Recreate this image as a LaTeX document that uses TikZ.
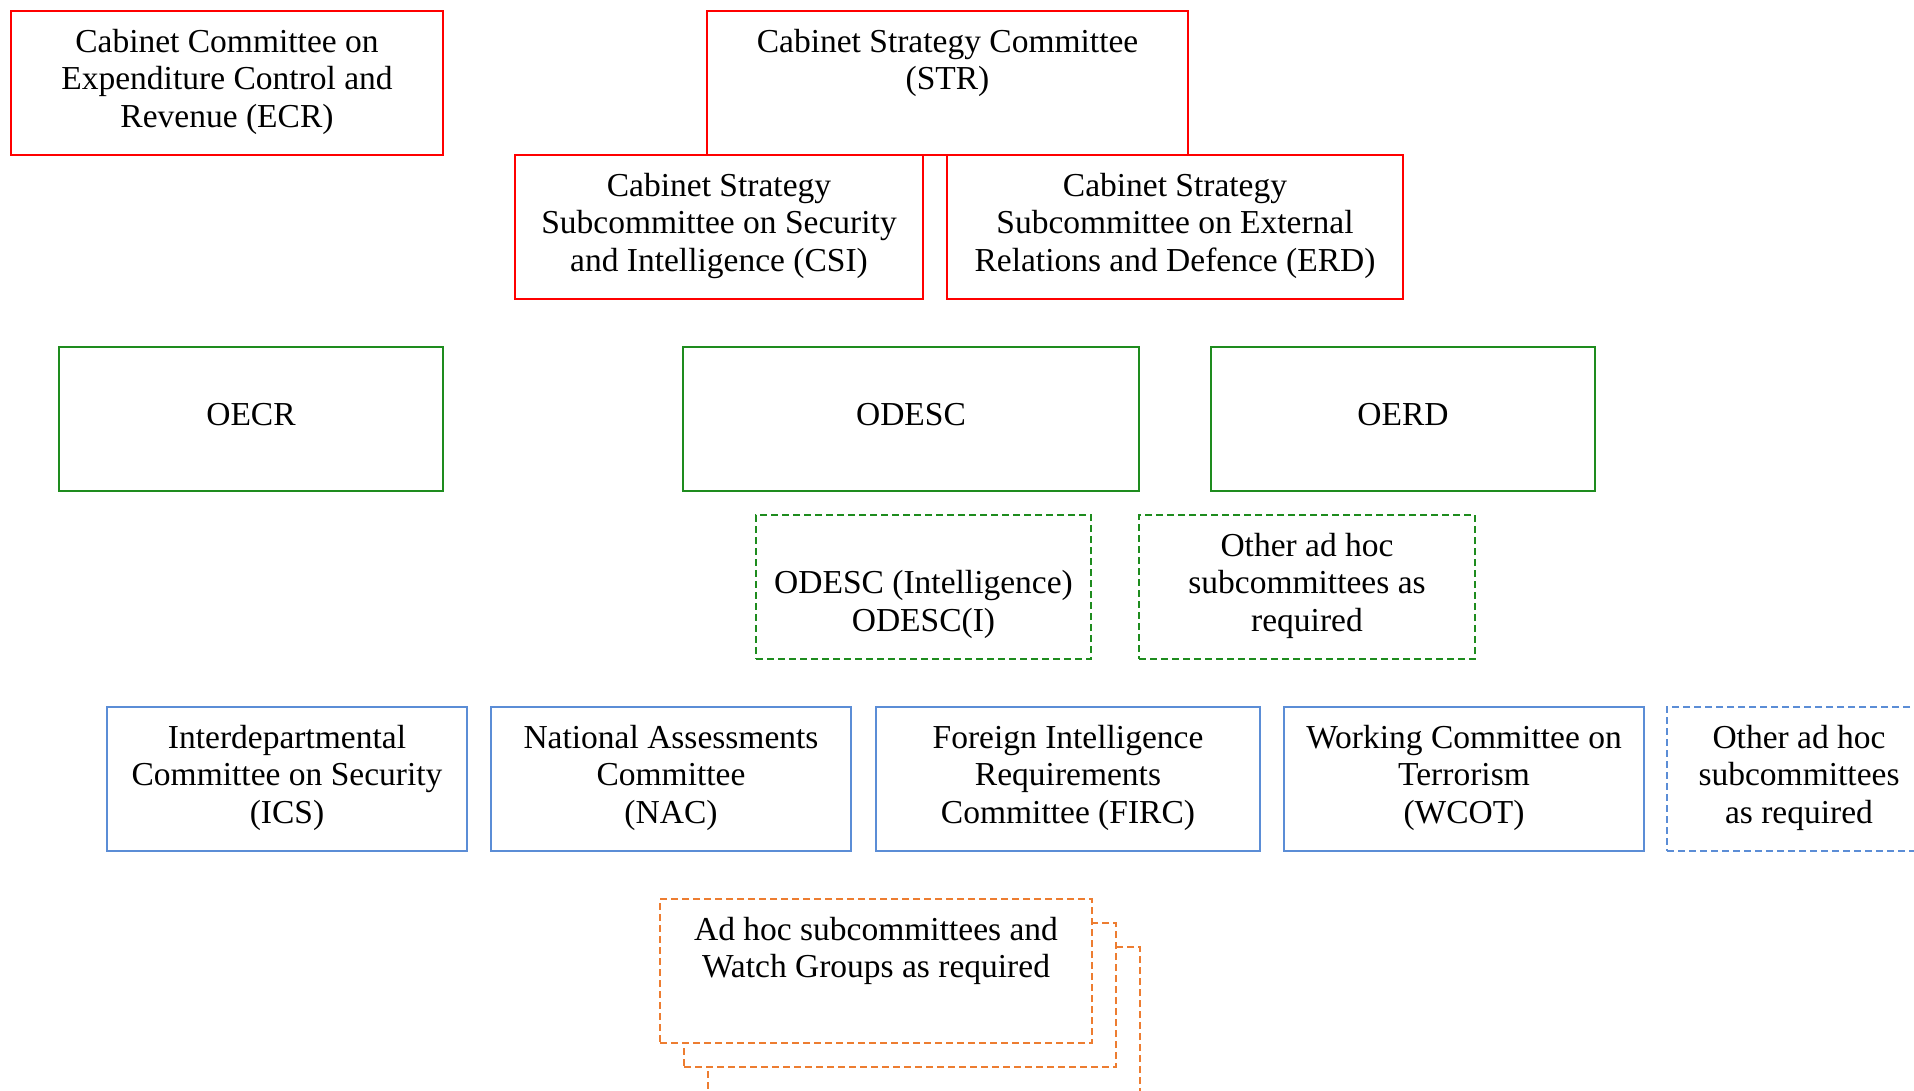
\documentclass[tikz,border=0pt]{standalone}
\usepackage{fontspec}
\setmainfont{Liberation Serif}
\definecolor{cred}{HTML}{FF0000}
\definecolor{cgreen}{HTML}{1E8C1E}
\definecolor{cblue}{HTML}{5B8DD6}
\definecolor{corange}{HTML}{ED7D31}
\newcommand{\fl}{\rule{0pt}{32pt}}
\begin{document}
\begin{tikzpicture}[x=1pt,y=-1pt,
  box/.style={draw, line width=2pt, fill=white, inner sep=0pt, outer sep=0pt, anchor=north west},
  dbox/.style={box, dash pattern=on 7pt off 4pt},
  txt/.style={anchor=north, align=center, inner sep=0pt, font=\fontsize{33.5}{37.7}\selectfont},
  sz/.style 2 args={minimum width=#1pt, minimum height=#2pt}]
\useasboundingbox (0,0) rectangle (1914,1090);
\fill[white] (0,0) rectangle (1914,1090);
\clip (0,0) rectangle (1914,1090);

% red level
\node[box, draw=cred, sz={432}{144}] (ecr) at (11,11) {};
\node[txt] (ecrt) at ([yshift=-9pt]ecr.north) {\fl Cabinet Committee on\\Expenditure Control and\\Revenue (ECR)};
\node[box, draw=cred, sz={481}{144}] (str) at (707,11) {};
\node[txt] (strt) at ([yshift=-9pt]str.north) {\fl Cabinet Strategy Committee\\(STR)};
\node[box, draw=cred, sz={408}{144}] (csi) at (515,155) {};
\node[txt] (csit) at ([yshift=-9pt]csi.north) {\fl Cabinet Strategy\\Subcommittee on Security\\and Intelligence (CSI)};
\node[box, draw=cred, sz={456}{144}] (erd) at (947,155) {};
\node[txt] (erdt) at ([yshift=-9pt]erd.north) {\fl Cabinet Strategy\\Subcommittee on External\\Relations and Defence (ERD)};

% green level
\node[box, draw=cgreen, sz={384}{144}] (oecr) at (59,347) {};
\node[txt] (oecrt) at ([yshift=-46.7pt]oecr.north) {\fl OECR};
\node[box, draw=cgreen, sz={456}{144}] (odesc) at (683,347) {};
\node[txt] (odesct) at ([yshift=-46.7pt]odesc.north) {\fl ODESC};
\node[box, draw=cgreen, sz={384}{144}] (oerd) at (1211,347) {};
\node[txt] (oerdt) at ([yshift=-46.7pt]oerd.north) {\fl OERD};
\node[dbox, draw=cgreen, sz={335}{144}] (odesci) at (756,515) {};
\node[txt] (odescit) at ([yshift=-46.7pt]odesci.north) {\fl ODESC (Intelligence)\\ODESC(I)};
\node[dbox, draw=cgreen, sz={336}{144}] (gadhoc) at (1139,515) {};
\node[txt] (gadhoct) at ([yshift=-9pt]gadhoc.north) {\fl Other ad hoc\\subcommittees as\\required};

% blue level
\node[box, draw=cblue, sz={360}{144}] (ics) at (107,707) {};
\node[txt] (icst) at ([yshift=-9pt]ics.north) {\fl Interdepartmental\\Committee on Security\\(ICS)};
\node[box, draw=cblue, sz={360}{144}] (nac) at (491,707) {};
\node[txt] (nact) at ([yshift=-9pt]nac.north) {\fl National Assessments\\Committee\\(NAC)};
\node[box, draw=cblue, sz={384}{144}] (firc) at (876,707) {};
\node[txt] (firct) at ([yshift=-9pt]firc.north) {\fl Foreign Intelligence\\Requirements\\Committee (FIRC)};
\node[box, draw=cblue, sz={360}{144}] (wcot) at (1284,707) {};
\node[txt] (wcott) at ([yshift=-9pt]wcot.north) {\fl Working Committee on\\Terrorism\\(WCOT)};
\node[dbox, draw=cblue, sz={264}{144}] (badhoc) at (1667,707) {};
\node[txt] (badhoct) at ([yshift=-9pt]badhoc.north) {\fl Other ad hoc\\subcommittees\\as required};

% orange stacked
\node[dbox, draw=corange, sz={432}{200}] (or3) at (708,947) {};
\node[dbox, draw=corange, sz={432}{144}] (or2) at (684,923) {};
\node[dbox, draw=corange, sz={432}{144}] (or1) at (660,899) {};
\node[txt] (or1t) at ([yshift=-9pt]or1.north) {\fl Ad hoc subcommittees and\\Watch Groups as required};
\end{tikzpicture}
\end{document}
